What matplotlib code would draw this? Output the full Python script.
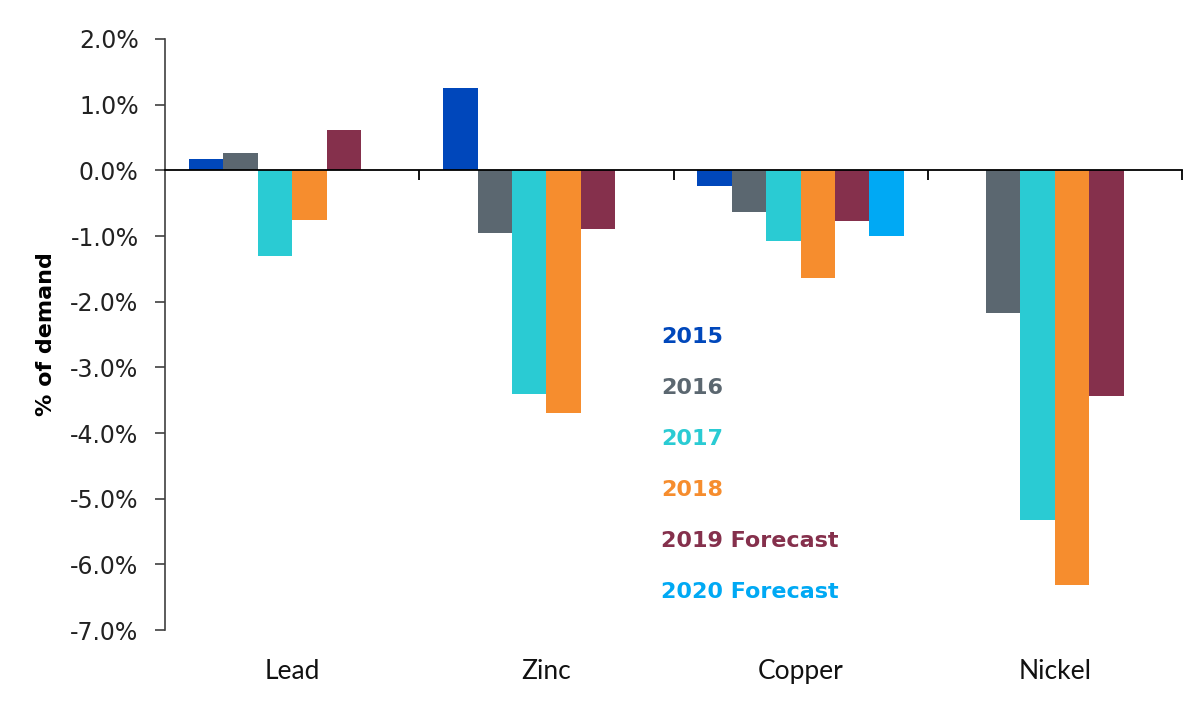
import numpy as np
import matplotlib
matplotlib.use('Agg')
import matplotlib.pyplot as plt
from matplotlib.ticker import FuncFormatter, FixedLocator

# values in % of demand, nan = no bar
metals = ['Lead', 'Zinc', 'Copper', 'Nickel']
years = ['2015', '2016', '2017', '2018', '2019 Forecast', '2020 Forecast']
v2015 = [0.17, 1.25, -0.24, np.nan]
v2016 = [0.26, -0.95, -0.64, -2.18]
v2017 = [-1.30, -3.40, -1.08, -5.33]
v2018 = [-0.75, -3.69, -1.64, -6.32]
v2019 = [0.61, -0.90, -0.77, -3.43]
v2020 = [np.nan, np.nan, -1.00, np.nan]
series = [v2015, v2016, v2017, v2018, v2019, v2020]
colors = ['#0047BB', '#5B6770', '#2ACBD3', '#F68D2E', '#85304C', '#00A9F4']

fig = plt.figure(figsize=(12, 7.09), dpi=100)
ax = fig.add_axes([0.1375, 0.1114, 0.8475, 0.8336])

x = np.arange(len(metals))
w = 0.1353
for i, (vals, c) in enumerate(zip(series, colors)):
    ax.bar(x + (i - 2.5) * w, vals, width=w, color=c, zorder=2)

ax.set_xlim(-0.5, 3.5)
ax.set_ylim(-7, 2)
ax.set_yticks(np.arange(-7, 2.1, 1))
ax.yaxis.set_major_formatter(FuncFormatter(lambda v, p: f'{v:.1f}%'))
ax.tick_params(axis='y', direction='out', length=7, width=1.2, colors='#404040',
               labelsize=17, labelcolor='#222222', pad=12)

# category axis sits on the zero line
for s in ['top', 'right']:
    ax.spines[s].set_visible(False)
ax.spines['left'].set_color('#404040')
ax.spines['left'].set_linewidth(1.2)
ax.spines['bottom'].set_position(('data', 0))
ax.spines['bottom'].set_linewidth(1.3)
ax.spines['bottom'].set_zorder(3)
ax.xaxis.set_major_locator(FixedLocator(x + 0.5))
ax.tick_params(axis='x', direction='out', length=7, width=1.3, labelbottom=False)

for xi, m in zip(x, metals):
    ax.text(xi, -0.071, m, transform=ax.get_xaxis_transform(), ha='center', va='center',
            fontsize=19, family='Lato', color='#111111')

ax.set_ylabel('% of demand', fontsize=16, fontweight='bold', labelpad=10)

# legend written as coloured text
for i, (yr, c) in enumerate(zip(years, colors)):
    ax.text(0.4877, 0.4953 - i * 0.0861, yr, transform=ax.transAxes, color=c,
            fontsize=16, fontweight='bold', va='center', ha='left')

fig.savefig('out.png', dpi=100)
